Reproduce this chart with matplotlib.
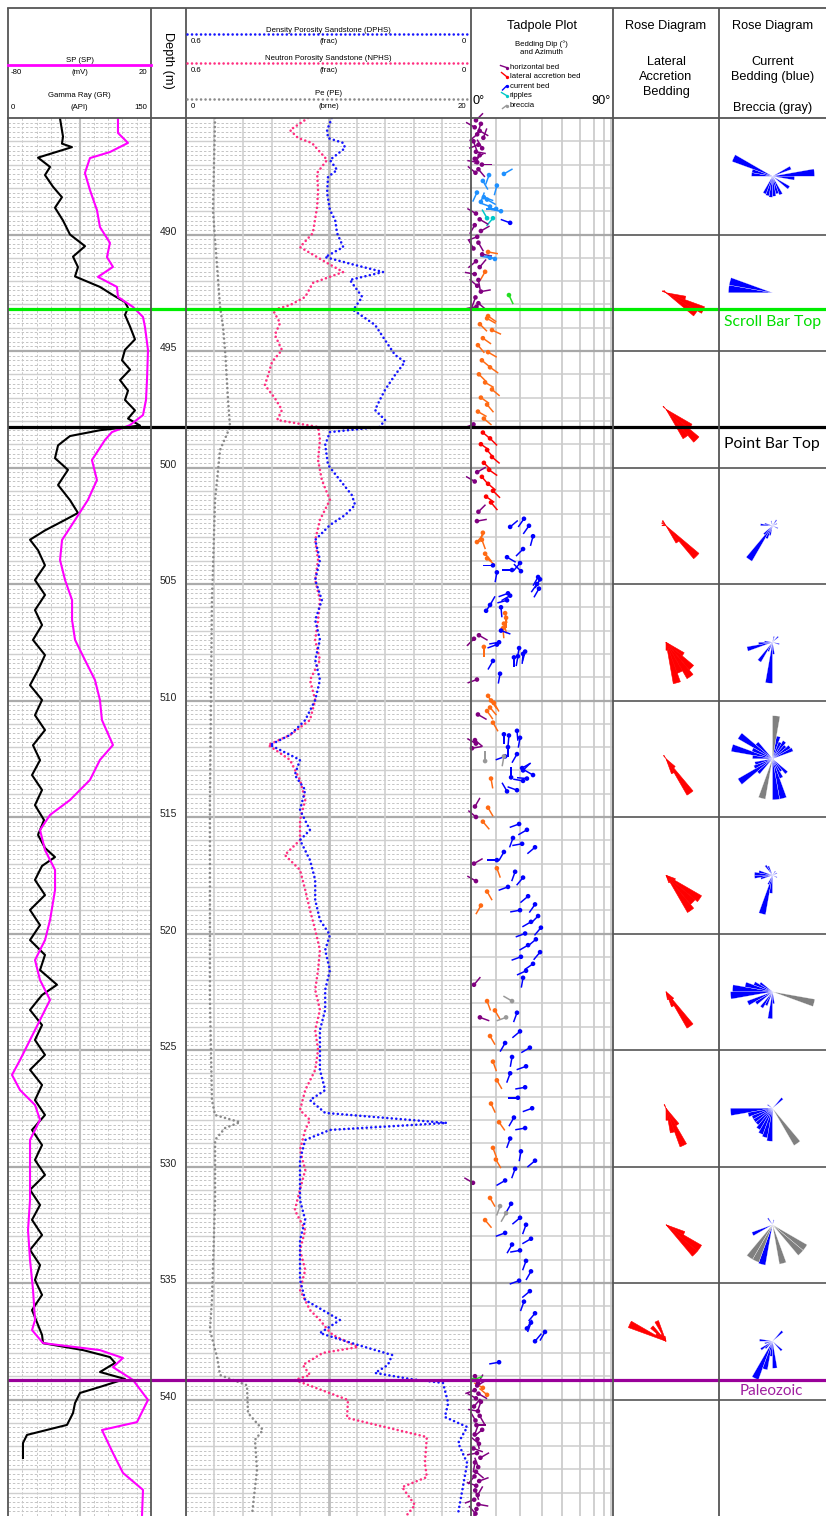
import numpy as np
import matplotlib
matplotlib.use("Agg")
import matplotlib.pyplot as plt
from matplotlib import transforms as mtransforms

# ------------------------------------------------------------------ data
depth_ticks = [490, 495, 500, 505, 510, 515, 520, 525, 530, 535, 540]

gr_depth = [485.0, 485.8, 486.1, 486.25, 486.7, 487.1, 487.45, 487.95, 488.4, 488.85, 489.4, 490.0,
            490.5, 490.95, 491.4, 491.8, 492.25, 492.6, 492.9, 493.15, 493.45, 493.95, 494.5, 494.95,
            495.4, 495.8, 496.25, 496.7, 497.1, 497.55, 497.9, 498.2, 498.4, 498.65, 499.05, 499.6,
            500.1, 500.75, 501.4, 501.95, 502.25, 502.7, 503.1, 503.55, 504.2, 504.83, 505.47, 506.12,
            506.76, 507.4, 508.05, 508.7, 509.34, 509.98, 510.63, 511.27, 511.92, 512.56, 513.2, 513.84,
            514.49, 515.13, 515.77, 516.33, 516.72, 517.1, 517.7, 518.35, 518.99, 519.64, 520.28, 520.92,
            521.57, 522.2, 522.64, 523.28, 523.93, 524.57, 525.21, 525.85, 526.5, 527.15, 527.79, 528.43,
            529.08, 529.72, 530.36, 531.0, 531.65, 532.29, 532.94, 533.58, 534.23, 534.87, 535.51, 536.16,
            536.8, 537.23, 537.58, 537.88, 538.18, 538.43, 538.82, 539.12, 539.46, 539.72, 540.15, 540.58,
            541.09, 541.52, 541.87, 542.51]
gr_api = [54.5, 57.7, 56.6, 67.1, 31.5, 44.1, 38.8, 47.2, 56.6, 49.3, 57.7, 65.0,
          80.8, 68.2, 73.4, 70.3, 96.5, 110.1, 122.7, 125.9, 122.7, 128.0, 133.2, 122.7,
          119.6, 128.0, 117.5, 125.9, 122.7, 133.2, 125.9, 138.5, 96.5, 65.0, 52.5, 49.3,
          62.9, 52.5, 65.0, 73.4, 59.8, 38.8, 23.1, 31.5, 38.8, 28.3, 38.8, 28.3,
          35.7, 26.2, 38.8, 31.5, 23.1, 35.7, 28.3, 38.8, 26.2, 33.6, 25.2, 35.7,
          28.3, 37.8, 31.5, 38.8, 49.3, 35.7, 28.3, 38.8, 23.1, 33.6, 23.1, 38.8,
          33.6, 51.4, 35.7, 23.1, 35.7, 28.3, 38.8, 23.1, 35.7, 28.3, 38.8, 25.2,
          35.7, 28.3, 38.8, 23.1, 33.6, 25.2, 35.7, 23.1, 33.6, 28.3, 35.7, 25.2,
          31.5, 35.7, 36.7, 78.7, 107.0, 112.3, 96.5, 122.7, 96.5, 75.5, 70.3, 68.2,
          61.9, 19.9, 15.7, 15.7]

sp_depth = [485.0, 485.64, 486.07, 486.46, 486.72, 487.36, 488.09, 488.95, 489.68, 490.36, 490.97,
            491.39, 491.82, 492.25, 492.68, 493.11, 493.54, 493.97, 494.96, 496.24, 497.1, 497.75,
            498.18, 498.48, 498.82, 499.68, 500.54, 501.39, 502.25, 503.11, 503.97, 504.83, 505.69,
            506.55, 507.4, 508.26, 509.12, 509.98, 510.84, 511.91, 512.55, 513.41, 514.27, 514.91,
            515.56, 516.42, 517.27, 518.13, 519.42, 520.28, 521.14, 522.0, 522.85, 523.71, 524.57,
            525.43, 526.07, 526.72, 527.36, 528.0, 528.86, 530.15, 531.44, 532.73, 534.01, 535.3,
            536.59, 537.02, 537.58, 537.88, 538.22, 538.61, 539.16, 540.02, 540.97, 541.31, 542.3,
            543.15, 543.88, 545.0]
sp_mv = [-3.1, -3.1, 3.9, -8.7, -22.7, -26.2, -22.7, -17.8, -15.7, -8.7, -10.8,
         -6.6, -17.1, -3.8, -3.1, 7.4, 14.4, 15.8, 17.9, 17.2, 16.5, 14.4,
         5.3, -7.3, -12.2, -21.3, -17.8, -24.1, -33.1, -42.2, -43.6, -40.1, -35.2,
         -35.2, -33.1, -26.2, -19.2, -15.7, -14.3, -6.6, -15.7, -22.7, -36.6, -50.6,
         -57.6, -54.1, -47.1, -47.1, -50.6, -54.1, -61.1, -57.6, -50.6, -57.6, -64.6,
         -71.6, -77.2, -71.6, -61.1, -57.6, -64.6, -64.6, -64.6, -66.0, -64.6, -62.5,
         -61.1, -63.2, -55.5, -15.7, 0.4, -6.6, 7.4, 17.9, 10.2, -14.3, -6.6,
         0.4, 14.4, 13.7]

dphs_depth = [485.0, 485.52, 485.86, 486.07, 486.29, 486.8, 487.23, 487.53, 488.22, 488.95, 489.38,
              489.94, 490.54, 490.97, 491.31, 491.61, 491.95, 492.68, 493.24, 493.88, 494.53, 495.17,
              495.47, 496.03, 496.67, 497.1, 497.53, 497.96, 498.26, 498.48, 499.03, 499.89, 500.54,
              501.18, 501.61, 502.04, 502.47, 503.11, 503.97, 504.83, 505.69, 506.55, 507.4, 508.26,
              509.12, 509.98, 510.84, 511.48, 511.91, 512.55, 513.2, 513.84, 514.7, 515.56, 515.99,
              516.85, 517.7, 518.56, 519.42, 520.06, 520.71, 521.57, 522.42, 523.28, 524.14, 525.0,
              525.86, 526.72, 527.15, 527.7, 528.13, 528.43, 528.86, 529.72, 530.58, 531.44, 532.3,
              533.15, 534.0, 534.87, 535.73, 536.59, 537.15, 537.66, 538.09, 538.52, 538.86, 539.12,
              539.29, 540.15, 540.75, 541.18, 541.87, 542.73, 544.87]
dphs = [0.293, 0.303, 0.301, 0.269, 0.265, 0.297, 0.282, 0.301, 0.303, 0.297, 0.286,
        0.282, 0.269, 0.307, 0.244, 0.185, 0.255, 0.229, 0.248, 0.202, 0.181, 0.160,
        0.139, 0.160, 0.181, 0.192, 0.202, 0.181, 0.192, 0.297, 0.307, 0.301, 0.276,
        0.251, 0.244, 0.265, 0.297, 0.328, 0.318, 0.328, 0.314, 0.328, 0.318, 0.328,
        0.318, 0.328, 0.349, 0.381, 0.423, 0.360, 0.371, 0.349, 0.360, 0.339, 0.360,
        0.339, 0.328, 0.328, 0.318, 0.297, 0.307, 0.297, 0.307, 0.307, 0.318, 0.318,
        0.318, 0.307, 0.339, 0.307, 0.051, 0.297, 0.349, 0.360, 0.360, 0.360, 0.349,
        0.360, 0.360, 0.360, 0.349, 0.276, 0.318, 0.238, 0.166, 0.175, 0.202, 0.128,
        0.059, 0.048, 0.055, 0.008, 0.027, 0.008, 0.027]

nphs_depth = [485.0, 485.52, 485.86, 486.07, 486.8, 487.36, 488.09, 488.82, 489.94, 490.54, 491.22,
              491.61, 492.08, 492.68, 493.03, 493.24, 493.8, 494.31, 494.96, 495.47, 496.03, 496.46,
              497.02, 497.53, 497.96, 498.26, 498.82, 499.68, 500.54, 501.39, 502.25, 503.11, 503.97,
              504.83, 505.69, 506.55, 507.4, 508.26, 509.12, 509.98, 510.84, 511.48, 511.91, 512.55,
              513.41, 514.27, 515.13, 515.99, 516.63, 517.27, 518.13, 518.99, 519.85, 520.71, 521.57,
              522.42, 523.28, 524.14, 525.0, 525.86, 526.72, 527.58, 528.0, 528.43, 529.29, 530.15,
              531.0, 531.87, 532.73, 533.58, 534.44, 535.3, 536.16, 536.59, 537.02, 537.23, 537.75,
              538.0, 538.52, 538.95, 539.16, 540.02, 540.79, 541.61, 542.73, 543.33, 543.76, 544.53,
              544.96]
nphs = [0.343, 0.381, 0.364, 0.335, 0.303, 0.324, 0.322, 0.324, 0.333, 0.360, 0.303,
        0.269, 0.333, 0.349, 0.381, 0.417, 0.402, 0.413, 0.398, 0.419, 0.427, 0.434,
        0.413, 0.398, 0.408, 0.322, 0.318, 0.322, 0.314, 0.297, 0.318, 0.328, 0.322,
        0.328, 0.318, 0.322, 0.328, 0.318, 0.339, 0.328, 0.339, 0.381, 0.427, 0.381,
        0.360, 0.349, 0.360, 0.360, 0.392, 0.360, 0.349, 0.339, 0.328, 0.318, 0.322,
        0.328, 0.318, 0.328, 0.322, 0.328, 0.349, 0.360, 0.339, 0.349, 0.360, 0.349,
        0.360, 0.371, 0.349, 0.360, 0.349, 0.360, 0.339, 0.318, 0.301, 0.291, 0.238,
        0.312, 0.354, 0.339, 0.371, 0.259, 0.261, 0.093, 0.097, 0.093, 0.145, 0.118,
        0.135]

pe_depth = [485.0, 488.95, 493.11, 493.97, 494.96, 497.1, 498.26, 499.25, 501.39, 505.69, 514.27,
            522.85, 527.15, 527.79, 528.1, 528.35, 528.86, 531.44, 535.73, 537.02, 538.18, 538.95,
            539.39, 540.58, 541.31, 541.73, 543.03, 544.96]
pe = [2.04, 1.89, 2.39, 2.60, 2.74, 2.95, 3.09, 2.39, 2.04, 1.82, 1.68,
      1.68, 1.82, 2.04, 3.79, 2.74, 2.04, 2.04, 1.82, 1.68, 2.18, 2.39,
      4.28, 4.35, 5.40, 4.84, 4.98, 4.63]

# tadpoles: depth (m), dip (deg), azimuth (deg), bed type
tad_depth = [
    485.1, 485.25, 485.4, 485.55, 485.7, 485.85, 486.0, 486.15, 486.3, 486.45, 486.6, 486.75, 486.9, 487.0, 487.2, 487.35,
    487.4, 487.45, 487.7, 487.9, 488.2, 488.4, 488.5, 488.6, 488.8, 488.9, 489.0, 489.3, 489.3, 489.5,
    489.1, 489.35, 489.6, 489.85, 490.1, 490.35, 490.6, 490.85, 491.15, 491.4, 491.7, 491.95, 492.2, 492.45, 492.7, 492.95, 493.1,
    490.75, 491.6, 491.05, 491.0, 492.6,
    493.5, 493.6, 493.85, 494.1, 494.45, 494.75, 495.05, 495.4, 495.7, 496.0, 496.35, 496.65, 497.0, 497.3, 497.6, 497.9, 498.15,
    498.5, 498.75, 499.0, 499.25, 499.55, 499.8, 500.1, 500.4, 500.7, 501.0, 501.25, 501.5,
    500.2, 500.6, 501.9, 502.3,
    502.8, 503.1, 503.2, 503.7, 503.9,
    504.2, 504.5, 502.55, 502.2, 502.5, 502.95, 503.5, 503.85, 504.1, 504.4, 504.45, 504.7, 504.8, 505.0, 505.2,
    505.4, 505.5, 505.7, 505.9, 506.15, 506.0,
    506.25, 506.45, 506.7, 506.9, 507.0, 507.35, 507.2, 507.7,
    507.5, 507.6, 507.75, 507.9, 508.0, 508.1, 508.15, 508.3, 509.1, 508.85,
    509.8, 510.0, 510.1, 510.3, 510.45, 510.6, 510.95, 511.7, 512.05, 511.85,
    511.45, 511.5, 511.3, 511.6, 512.0, 512.3, 512.4, 512.6, 512.4,
    512.9, 513.0, 513.2, 513.3, 513.35, 513.45, 513.9, 513.85, 513.35, 514.55, 514.6,
    515.0, 515.2, 515.3, 515.55, 515.9, 516.15, 516.3, 516.5, 516.85, 517.0, 517.2, 517.35, 517.6, 517.75,
    518.0, 518.2, 518.4, 518.8, 518.75, 519.0, 519.25, 519.5, 519.75, 520.0, 520.25, 520.5, 520.8, 521.0,
    521.3, 521.6, 521.9, 522.2, 522.9, 522.9, 523.3, 523.4, 523.6, 523.6, 524.2, 524.4, 524.7, 524.9,
    525.3, 525.5, 525.7, 526.0, 526.3, 526.6, 527.05, 527.3, 527.5, 527.9, 528.1, 528.35, 528.8, 529.2,
    529.35, 529.7, 529.75, 530.1, 530.6, 530.7, 531.7, 532.0, 531.35, 531.6, 532.3, 532.2, 532.5, 532.85,
    533.1, 533.35, 533.6, 534.05, 534.5, 534.9, 535.35, 535.8, 536.3, 536.95, 537.1, 537.5, 536.7, 538.4,
    539.0, 539.3, 539.5, 539.8, 539.16,
    539.4, 539.6, 539.75, 539.95, 540.1, 540.3, 540.5, 540.7, 540.9, 541.1, 541.3, 541.5, 541.7, 541.9,
    542.1, 542.3, 542.5, 542.7, 542.9, 543.1, 543.3, 543.5, 543.7, 543.9, 544.1, 544.3, 544.5, 544.7, 544.9]
tad_dip = [
    2.0, 4.0, 1.5, 3.5, 2.5, 5.0, 1.0, 3.0, 4.5, 2.0, 3.5, 1.5, 2.5, 4.4, 3.0, 1.8,
    13.4, 7.3, 4.8, 10.5, 2.4, 5.2, 6.5, 4.0, 7.7, 10.2, 12.2, 6.5, 8.9, 16.0,
    2.0, 3.5, 1.5, 4.0, 2.5, 3.0, 1.0, 4.5, 2.0, 3.5, 1.5, 3.0, 2.5, 4.0, 1.8, 3.0, 2.2,
    6.9, 5.7, 9.7, 7.7, 15.5,
    6.9, 6.5, 3.6, 8.5, 4.8, 2.8, 6.9, 4.4, 7.7, 3.2, 5.7, 8.5, 4.0, 6.5, 2.8, 5.2, 1.0,
    4.8, 7.7, 4.0, 6.5, 8.5, 5.2, 7.3, 4.4, 6.9, 8.9, 6.1, 8.1,
    2.5, 1.5, 3.0, 2.4,
    4.8, 4.4, 2.4, 5.7, 6.5,
    8.9, 10.5, 16.0, 21.9, 24.1, 25.9, 21.5, 14.7, 20.2, 16.8, 20.6, 28.2, 29.1, 27.7, 28.6,
    15.1, 16.0, 14.7, 7.7, 6.1, 12.2,
    13.9, 14.3, 13.4, 13.0, 12.2, 1.2, 3.2, 5.2,
    11.4, 10.5, 19.8, 22.4, 21.5, 19.3, 17.6, 8.9, 2.4, 11.8,
    6.9, 8.1, 9.3, 7.7, 6.5, 2.8, 8.9, 1.6, 0.4, 2.0,
    13.4, 15.5, 18.9, 20.2, 15.1, 18.9, 13.9, 5.7, 13.4,
    21.1, 21.5, 25.9, 16.4, 23.2, 21.5, 14.7, 18.9, 8.1, 1.6, 6.9,
    2.0, 4.8, 19.8, 23.2, 17.2, 21.1, 26.8, 13.4, 10.5, 1.2, 10.5, 18.1, 21.5, 2.0,
    15.1, 6.5, 23.7, 4.0, 26.8, 20.2, 28.2, 25.0, 29.5, 22.4, 27.2, 23.7, 29.1, 20.6,
    25.9, 22.8, 21.5, 1.2, 16.8, 6.5, 9.7, 18.9, 14.3, 3.6, 20.2, 7.7, 13.9, 24.5,
    16.8, 8.9, 22.8, 16.0, 10.5, 22.4, 19.3, 8.1, 25.5, 17.6, 11.4, 22.4, 16.0, 8.9,
    20.6, 10.1, 26.8, 18.1, 13.9, 0.8, 11.8, 14.3, 7.7, 16.4, 5.7, 20.2, 22.8, 13.9,
    25.0, 16.8, 20.2, 22.8, 25.0, 19.8, 24.5, 21.9, 26.8, 23.2, 31.4, 26.8, 25.0, 11.4,
    1.6, 2.8, 4.8, 6.5, 0.8,
    2.5, 1.5, 3.0, 2.0, 4.0, 1.2, 2.8, 3.5, 1.8, 2.2, 4.5, 1.5, 2.6, 3.2,
    1.0, 2.4, 3.8, 1.6, 2.9, 2.0, 1.4, 3.3, 2.1, 1.7, 2.7, 1.3, 3.0, 2.2, 1.8]
tad_az = [
    45, 200, 300, 120, 230, 20, 160, 250, 330, 100, 210, 60, 280, 90, 140, 310,
    60, 200, 150, 195, 205, 110, 120, 20, 290, 270, 280, 330, 220, 290,
    300, 120, 210, 60, 250, 150, 330, 100, 230, 40, 280, 170, 310, 80, 200, 130, 260,
    100, 210, 290, 280, 155,
    125, 120, 135, 115, 125, 140, 120, 130, 125, 135, 120, 130, 125, 140, 120, 130, 250,
    130, 135, 125, 140, 130, 135, 125, 140, 130, 135, 125, 140,
    60, 300, 45, 80,
    200, 160, 40, 140, 130,
    270, 190, 50, 215, 215, 195, 225, 120, 220, 270, 315, 210, 210, 215, 210,
    250, 240, 255, 30, 35, 175,
    170, 180, 165, 175, 110, 225, 120, 180,
    260, 250, 190, 195, 185, 190, 180, 210, 250, 190,
    150, 145, 150, 140, 145, 120, 150, 130, 80, 300,
    180, 185, 175, 190, 180, 210, 250, 0, 190,
    60, 45, 300, 0, 275, 280, 330, 290, 170, 30, 150,
    310, 140, 250, 240, 200, 260, 230, 210, 270, 60, 160, 200, 220, 300,
    250, 150, 230, 210, 215, 260, 225, 240, 220, 250, 230, 240, 220, 250,
    235, 245, 190, 40, 300, 160, 150, 200, 250, 110, 230, 150, 210, 240,
    190, 160, 250, 200, 150, 260, 270, 155, 250, 210, 145, 260, 200, 160,
    190, 150, 230, 200, 240, 300, 200, 210, 150, 210, 140, 230, 200, 250,
    240, 210, 260, 200, 210, 250, 230, 200, 220, 30, 210, 40, 200, 260,
    150, 30, 300, 310, 70,
    60, 250, 120, 300, 200, 40, 280, 150, 330, 90, 230, 20, 170, 310,
    110, 260, 60, 190, 340, 130, 220, 70, 290, 160, 30, 250, 100, 200, 320]
tad_type = (
    ['h'] * 16 +
    ['cl'] * 11 + ['r', 'r', 'c'] +
    ['h'] * 17 +
    ['sb', 'sb', 'cl', 'cl', 'g'] +
    ['sb'] * 16 + ['h'] +
    ['la'] * 12 +
    ['h'] * 4 +
    ['sb'] * 5 +
    ['c'] * 15 +
    ['c'] * 6 +
    ['sb', 'sb', 'sb', 'sb', 'c', 'h', 'h', 'sb'] +
    ['c', 'c', 'c', 'c', 'c', 'c', 'c', 'c', 'h', 'c'] +
    ['sb', 'sb', 'sb', 'sb', 'sb', 'h', 'sb', 'h', 'h', 'h'] +
    ['c', 'c', 'c', 'c', 'c', 'c', 'c', 'b', 'b'] +
    ['c', 'c', 'c', 'c', 'c', 'c', 'c', 'c', 'sb', 'h', 'sb'] +
    ['h', 'sb', 'c', 'c', 'c', 'c', 'c', 'c', 'c', 'h', 'sb', 'c', 'c', 'h'] +
    ['c', 'sb', 'c', 'sb', 'c', 'c', 'c', 'c', 'c', 'c', 'c', 'c', 'c', 'c'] +
    ['c', 'c', 'c', 'h', 'b', 'sb', 'sb', 'c', 'b', 'h', 'c', 'sb', 'c', 'c'] +
    ['c', 'sb', 'c', 'c', 'sb', 'c', 'c', 'sb', 'c', 'c', 'sb', 'c', 'c', 'sb'] +
    ['c', 'sb', 'c', 'c', 'c', 'h', 'b', 'b', 'sb', 'c', 'sb', 'c', 'c', 'c'] +
    ['c', 'c', 'c', 'c', 'c', 'c', 'c', 'c', 'c', 'c', 'c', 'c', 'c', 'c'] +
    ['h', 'h', 'sb', 'sb', 'g'] +
    ['h'] * 29)
tad_colors = {'h': '#800080', 'la': '#ff0000', 'sb': '#ff6a13', 'c': '#0000ff',
              'cl': '#1e90ff', 'r': '#00c8c8', 'b': '#999999', 'g': '#22dd22'}
tad_grid_dips = [10, 20, 30, 40, 50, 60, 70, 80]

# rose diagrams: interval top depth, petal azimuth (bin centre, deg), petal length (count units)
la_rose_top = [490] * 5 + [495] * 4 + [500] * 5 + [505] * 6 + [510] * 4 + [515] * 5 + [520] * 4 + \
              [525] * 5 + [530] * 3 + [535] * 6
la_rose_az = [105, 115, 125, 295, 315,
              125, 135, 145, 315,
              135, 145, 305, 325, 275,
              125, 135, 145, 155, 165, 175,
              135, 145, 155, 325,
              115, 125, 135, 145, 155,
              135, 145, 155, 165,
              145, 155, 165, 175, 335,
              115, 125, 135,
              295, 305, 315, 325, 335, 345]
la_rose_len = [20, 41, 36, 4, 3,
               30, 43, 34, 4,
               43, 20, 5, 6, 4,
               21, 36, 42, 33, 42, 8,
               12, 42, 16, 4,
               10, 41, 38, 43, 8,
               10, 42, 16, 8,
               20, 41, 25, 12, 4,
               20, 41, 41,
               40, 12, 20, 8, 22, 5]

cb_rose_top = [485] * 13 + [490] * 2 + [500] * 10 + [505] * 10 + [510] * 22 + [515] * 12 + \
              [520] * 12 + [525] * 12 + [530] * 9 + [535] * 10
cb_rose_az = [65, 85, 95, 125, 155, 165, 175, 185, 195, 205, 275, 285, 295,
              275, 285,
              215, 225, 205, 195, 275, 285, 35, 115, 65, 345,
              185, 175, 255, 265, 215, 205, 45, 105, 275, 15,
              5, 195, 165, 175, 305, 315, 285, 295, 235, 245, 255, 15, 35, 55, 65, 25, 45, 135, 155, 145, 225, 275,
              195, 185, 205, 275, 265, 255, 325, 335, 35, 65, 115, 285,
              265, 275, 285, 295, 305, 245, 235, 215, 205, 185, 175, 105,
              265, 255, 245, 235, 225, 215, 205, 195, 185, 45, 305, 145,
              195, 245, 205, 215, 165, 125, 135, 325, 15,
              205, 195, 175, 185, 45, 135, 275, 255, 235, 225]
cb_rose_len = [20, 42, 22, 20, 20, 18, 20, 21, 20, 19, 21, 21, 43,
               44, 44,
               41, 12, 14, 10, 12, 8, 7, 6, 5, 5,
               41, 12, 26, 14, 23, 10, 8, 7, 8, 6,
               43, 41, 41, 41, 40, 22, 42, 22, 40, 20, 18, 23, 21, 21, 22, 18, 18, 20, 21, 15, 20, 20,
               40, 18, 10, 18, 18, 12, 12, 10, 5, 5, 5, 14,
               42, 40, 28, 20, 15, 27, 20, 19, 15, 27, 12, 43,
               42, 25, 22, 22, 22, 25, 28, 30, 33, 14, 6, 43,
               41, 22, 40, 40, 40, 40, 40, 8, 5,
               41, 29, 27, 15, 14, 13, 13, 8, 14, 10]
cb_rose_kind = ['c'] * 15 + ['c'] * 10 + ['c'] * 10 + ['b', 'b'] + ['c'] * 20 + ['c'] * 12 + \
               ['c'] * 11 + ['b'] + ['c'] * 11 + ['b'] + ['c', 'c', 'b', 'b', 'b', 'b', 'b', 'c', 'c'] + ['c'] * 10
rose_colors = {'la': '#ff0000', 'c': '#0000ff', 'b': '#808080'}

marker_depth = [493.2, 498.25, 539.15]
marker_label = ['Scroll Bar Top', 'Point Bar Top', 'Paleozoic']
marker_color = ['#00ee00', '#000000', '#990099']
marker_text_color = ['#00dd00', '#000000', '#a020a0']

# ------------------------------------------------------------------ layout
W, H, DPI = 826, 1516, 100
plt.rcParams['font.family'] = ['Liberation Sans', 'DejaVu Sans']
fig = plt.figure(figsize=(W / DPI, H / DPI), dpi=DPI)
fig.patch.set_facecolor('white')

XB = [8, 151, 186, 471, 613, 719, 826]
YH0, YH1, YB = 8, 118, 1516
D0, D1 = 485.0, 545.0


def frac(x0, y0, x1, y1):
    return [x0 / W, 1 - y1 / H, (x1 - x0) / W, (y1 - y0) / H]


def clean(ax):
    ax.tick_params(which='both', bottom=False, top=False, left=False, right=False,
                   labelbottom=False, labeltop=False, labelleft=False, labelright=False)
    for s in ax.spines.values():
        s.set_visible(False)


def track(i):
    ax = fig.add_axes(frac(XB[i], YH1, XB[i + 1], YB))
    ax.set_ylim(D1, D0)
    clean(ax)
    return ax


def depth_grid(ax, dotted=True):
    if dotted:
        for d in np.arange(485.2, 545.0, 0.2):
            if abs(d - round(d)) > 0.01:
                ax.axhline(d, color='#c4c4c4', lw=0.7, ls=(0, (2.5, 2)), zorder=0)
    for d in range(486, 545):
        if d % 5 == 0:
            ax.axhline(d, color='#ababab', lw=1.6, zorder=0.5)
        else:
            ax.axhline(d, color='#cfcfcf', lw=1.0, zorder=0.5)


# --- track 1: GR / SP
ax_gr = track(0)
ax_gr.set_xlim(0, 150)
depth_grid(ax_gr)
for v in np.arange(15, 150, 15):
    if abs(v - 75) < 1e-6:
        ax_gr.axvline(v, color='#c0c0c0', lw=1.5, zorder=0.5)
    else:
        ax_gr.axvline(v, color='#c8c8c8', lw=0.7, ls=(0, (2.5, 2)), zorder=0)
ax_gr.plot(gr_api, gr_depth, color='black', lw=1.5, zorder=3)
ax_sp = ax_gr.twiny()
clean(ax_sp)
ax_sp.set_xlim(-80, 20)
ax_sp.plot(sp_mv, sp_depth, color='#ff00ff', lw=1.5, zorder=3)

# --- depth track
ax_dep = track(1)
ax_dep.set_xlim(0, 1)
for d in depth_ticks:
    ax_dep.text(0.5, d - 0.12, str(d), ha='center', va='center', fontsize=7.5, color='#222222')

# --- track 3: porosity / PE
ax_por = track(2)
ax_por.set_xlim(0.6, 0.0)
depth_grid(ax_por)
for v in np.arange(0.06, 0.6, 0.06):
    if abs(v - 0.3) < 1e-6:
        ax_por.axvline(v, color='#bdbdbd', lw=2.0, zorder=0.5)
    else:
        ax_por.axvline(v, color='#cfcfcf', lw=1.2, zorder=0.5)
dot = dict(lw=1.9, dash_capstyle='round', ls=(0, (0.01, 1.7)), zorder=3)
ax_por.plot(nphs, nphs_depth, color='#ff2f80', **dot)
ax_por.plot(dphs, dphs_depth, color='#1515ff', **dot)
ax_pe = ax_por.twiny()
clean(ax_pe)
ax_pe.set_xlim(0, 20)
ax_pe.plot(pe, pe_depth, color='#8a8a8a', **dot)

# --- tadpole track
ax_tad = track(3)


def _fwd(x):
    return np.sin(np.deg2rad(np.clip(x, 0, 90)))


def _inv(y):
    return np.rad2deg(np.arcsin(np.clip(y, 0, 1)))


ax_tad.set_xscale('function', functions=(_fwd, _inv))
ax_tad.set_xlim(0, 90)
clean(ax_tad)
for d in tad_grid_dips:
    ax_tad.axvline(d, color='#cdcdcd', lw=1.3, zorder=0)
for d in range(486, 545):
    ax_tad.axhline(d, color='#a8a8a8' if d % 5 == 0 else '#cdcdcd',
                   lw=1.6 if d % 5 == 0 else 1.1, zorder=0)
tc = [tad_colors[t] for t in tad_type]
az = np.deg2rad(np.array(tad_az, dtype=float))
q = ax_tad.quiver(tad_dip, tad_depth, np.sin(az), np.cos(az), color=tc, angles='uv',
                  pivot='tail', units='dots', scale_units='dots', scale=1 / 10.0, width=1.5,
                  headwidth=0, headlength=0, headaxislength=0, zorder=4)
q.set_clip_on(False)
ax_tad.scatter(tad_dip, tad_depth, s=11, c=tc, linewidths=0, zorder=5, clip_on=False)

# --- rose tracks
ax_la = track(4)
ax_cb = track(5)
for ax in (ax_la, ax_cb):
    ax.set_xlim(0, 1)
    for d in range(490, 545, 5):
        ax.axhline(d, color='#555555', lw=1.2, zorder=1)

R = 50.0


def rose_axes(host, top):
    cx, cy = host.transData.transform((0.5, top + 2.5))
    inv = fig.transFigure.inverted()
    x0, y0 = inv.transform((cx - R, cy - R))
    x1, y1 = inv.transform((cx + R, cy + R))
    pa = fig.add_axes([x0, y0, x1 - x0, y1 - y0], projection='polar')
    pa.set_theta_zero_location('N')
    pa.set_theta_direction(-1)
    pa.set_ylim(0, R)
    pa.axis('off')
    pa.patch.set_alpha(0)
    return pa


for top in sorted(set(la_rose_top)):
    pa = rose_axes(ax_la, top)
    sel = [i for i, t in enumerate(la_rose_top) if t == top]
    pa.bar(np.deg2rad([la_rose_az[i] for i in sel]), [la_rose_len[i] for i in sel],
           width=np.deg2rad(10), bottom=0, color=rose_colors['la'],
           edgecolor=rose_colors['la'], linewidth=0.4)

for top in sorted(set(cb_rose_top)):
    pa = rose_axes(ax_cb, top)
    for kind in ('c', 'b'):
        sel = [i for i, t in enumerate(cb_rose_top) if t == top and cb_rose_kind[i] == kind]
        if sel:
            pa.bar(np.deg2rad([cb_rose_az[i] for i in sel]), [cb_rose_len[i] for i in sel],
                   width=np.deg2rad(10), bottom=0, color=rose_colors[kind], edgecolor='white',
                   linewidth=0.2)

# --- horizon markers across all tracks
ax_mk = fig.add_axes(frac(XB[0], YH1, XB[-1], YB))
ax_mk.set_ylim(D1, D0)
ax_mk.set_xlim(XB[0], XB[-1])
ax_mk.axis('off')
offs = [0.55, 0.75, 0.5]
for d, lab, col, tcol, o in zip(marker_depth, marker_label, marker_color, marker_text_color, offs):
    ax_mk.axhline(d, color=col, lw=2.3, zorder=6)
    if lab == 'Paleozoic':
        ax_mk.text(771, d + o, lab, color=tcol, fontsize=11, ha='center', va='center',
                   family=['Lato', 'DejaVu Sans'])
    else:
        ax_mk.text(724, d + o, lab, color=tcol, fontsize=11.3, ha='left', va='center',
                   family=['Lato', 'DejaVu Sans'])

# --- frame and header (pixel coordinates)
ax_fr = fig.add_axes([0, 0, 1, 1])
ax_fr.set_xlim(0, W)
ax_fr.set_ylim(H, 0)
ax_fr.axis('off')
ax_fr.patch.set_alpha(0)
for x in XB[:-1]:
    ax_fr.plot([x, x], [YH0, YB], color='#555555', lw=1.3, solid_capstyle='butt')
for y in (YH0, YH1):
    ax_fr.plot([XB[0], W], [y, y], color='#555555', lw=1.3)

small = 5.6
big = 9.2
# GR / SP header
ax_fr.text(79.5, 60, 'SP (SP)', ha='center', va='center', fontsize=small)
ax_fr.plot([8, 151], [64.5, 64.5], color='#ff00ff', lw=2)
ax_fr.text(11, 72, '-80', ha='left', va='center', fontsize=small)
ax_fr.text(79.5, 72, '(mV)', ha='center', va='center', fontsize=small)
ax_fr.text(147, 72, '20', ha='right', va='center', fontsize=small)
ax_fr.text(79.5, 95.5, 'Gamma Ray (GR)', ha='center', va='center', fontsize=small)
ax_fr.text(11, 107.5, '0', ha='left', va='center', fontsize=small)
ax_fr.text(79.5, 107.5, '(API)', ha='center', va='center', fontsize=small)
ax_fr.text(147, 107.5, '150', ha='right', va='center', fontsize=small)
# depth header
ax_fr.text(168.5, 60, 'Depth (m)', ha='center', va='center', fontsize=big, rotation=-90)
# porosity header
hdr = [('Density Porosity Sandstone (DPHS)', 30, 34, '#1515ff', '0.6', '(frac)', '0', 41.5),
       ('Neutron Porosity Sandstone (NPHS)', 58.5, 63, '#ff2f80', '0.6', '(frac)', '0', 70.5),
       ('Pe (PE)', 93.5, 98.5, '#8a8a8a', '0', '(brne)', '20', 106.5)]
for name, ty, ly, col, l, m, r, sy in hdr:
    ax_fr.text(328.5, ty, name, ha='center', va='center', fontsize=small)
    ax_fr.plot([187, 470], [ly, ly], color=col, lw=1.9, dash_capstyle='round', ls=(0, (0.01, 1.7)))
    ax_fr.text(191, sy, l, ha='left', va='center', fontsize=small)
    ax_fr.text(328.5, sy, m, ha='center', va='center', fontsize=small)
    ax_fr.text(466, sy, r, ha='right', va='center', fontsize=small)
# tadpole header
ax_fr.text(542, 25.5, 'Tadpole Plot', ha='center', va='center', fontsize=big)
ax_fr.text(541, 44, 'Bedding Dip (°)', ha='center', va='center', fontsize=small)
ax_fr.text(541, 53, 'and Azimuth', ha='center', va='center', fontsize=small)
leg = [('horizontal bed', 67.5, 'h', -6, -2), ('lateral accretion bed', 76.5, 'la', -5, -4),
       ('current bed', 86, 'c', -4, 4), ('ripples', 95.5, 'r', -5, -3), ('breccia', 105.5, 'b', -4, 3)]
for lab, y, t, dx, dy in leg:
    ax_fr.plot([506.5, 506.5 + dx], [y, y + dy], color=tad_colors[t], lw=1.0)
    ax_fr.plot([506.5], [y], 'o', color=tad_colors[t], ms=2.4, mew=0)
    ax_fr.text(510, y, lab, ha='left', va='center', fontsize=small)
ax_fr.text(472.5, 101, '0°', ha='left', va='center', fontsize=big)
ax_fr.text(611, 101, '90°', ha='right', va='center', fontsize=big)
# rose headers
ax_fr.text(666, 25.5, 'Rose Diagram', ha='center', va='center', fontsize=big)
for txt, y in (('Lateral', 62), ('Accretion', 77), ('Bedding', 91.5)):
    ax_fr.text(666, y, txt, ha='center', va='center', fontsize=big)
ax_fr.text(772.5, 25.5, 'Rose Diagram', ha='center', va='center', fontsize=big)
for txt, y in (('Current', 62), ('Bedding (blue)', 77), ('Breccia (gray)', 108)):
    ax_fr.text(772.5, y, txt, ha='center', va='center', fontsize=big)

fig.savefig('out.png', dpi=DPI, facecolor='white')
